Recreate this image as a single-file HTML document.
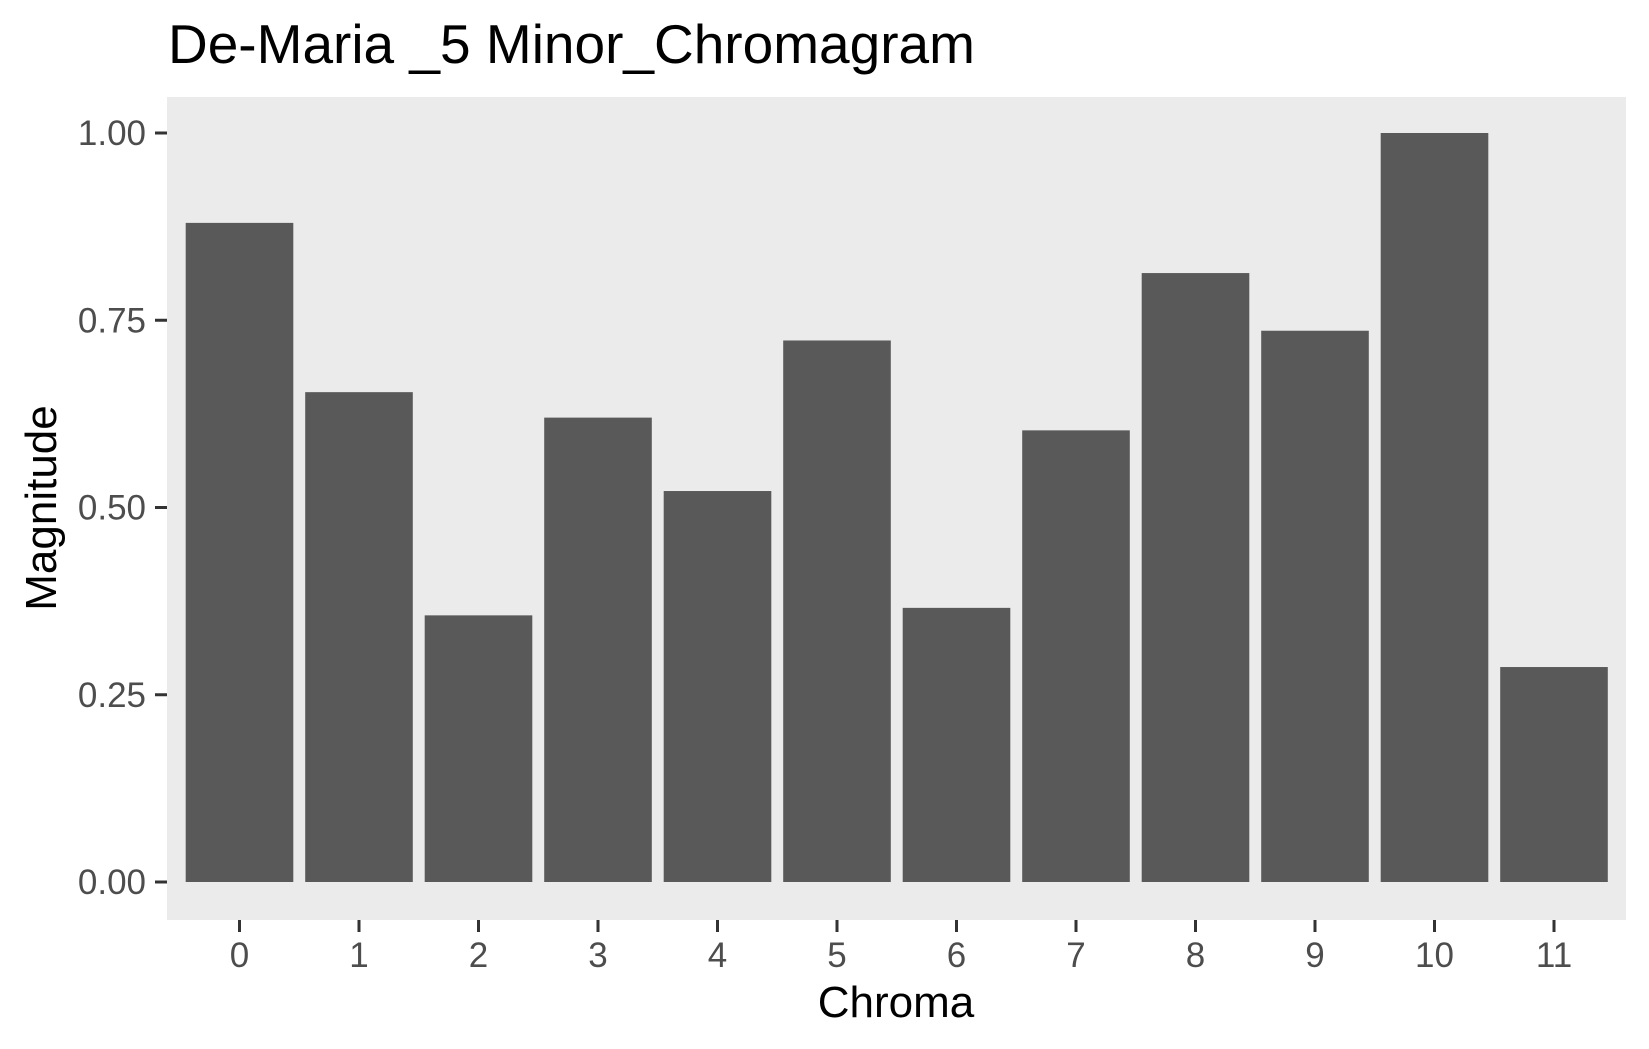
<!DOCTYPE html>
<html><head><meta charset="utf-8"><style>
body{margin:0;background:#fff;}
svg{display:block;font-family:"Liberation Sans",Arial,sans-serif;}
</style></head><body>
<svg id="chart" width="1649" height="1049">
<text x="168" y="63" font-size="55" fill="#000">De-Maria _5 Minor_Chromagram</text>
<rect x="167" y="97" width="1459" height="823" fill="#ebebeb"/>
<g id="bars"></g>
<g id="yaxis"></g>
<g id="xaxis"></g>
<text x="896" y="1017" font-size="44" text-anchor="middle" fill="#000">Chroma</text>
<text transform="translate(56,508) rotate(-90)" font-size="44" text-anchor="middle" fill="#000">Magnitude</text>
</svg>
<script>
const categories=["0","1","2","3","4","5","6","7","8","9","10","11"];
const magnitudes=[0.880,0.654,0.356,0.620,0.522,0.723,0.366,0.603,0.813,0.736,1.0,0.287];
const yTicks=[0,0.25,0.5,0.75,1.0];
const yTickLabels=["0.00","0.25","0.50","0.75","1.00"];
const NS="http://www.w3.org/2000/svg";
const x0=239.5, unit=119.5, bw=107.6;
function xs(i){return x0+i*unit;}
function ys(v){return 882-v*749;}
const bars=document.getElementById('bars'),ya=document.getElementById('yaxis'),xa=document.getElementById('xaxis');
magnitudes.forEach((v,i)=>{
  const r=document.createElementNS(NS,'rect');
  r.setAttribute('x',xs(i)-bw/2);r.setAttribute('width',bw);
  r.setAttribute('y',ys(v));r.setAttribute('height',ys(0)-ys(v));
  r.setAttribute('fill','#595959');
  
  
  bars.appendChild(r);
});
yTicks.forEach((t,i)=>{
  const y=ys(t);
  const l=document.createElementNS(NS,'line');
  l.setAttribute('x1',155);l.setAttribute('x2',167);l.setAttribute('y1',y);l.setAttribute('y2',y);
  l.setAttribute('stroke','#333');l.setAttribute('stroke-width',3);
  
  
  ya.appendChild(l);
  const tx=document.createElementNS(NS,'text');
  tx.setAttribute('x',146);tx.setAttribute('y',y+12);tx.setAttribute('text-anchor','end');
  tx.setAttribute('font-size',35);tx.setAttribute('fill','#4d4d4d');
  tx.textContent=yTickLabels[i];
  
  
  ya.appendChild(tx);
});
categories.forEach((c,i)=>{
  const x=xs(i);
  const l=document.createElementNS(NS,'line');
  l.setAttribute('x1',x);l.setAttribute('x2',x);l.setAttribute('y1',920);l.setAttribute('y2',932);
  l.setAttribute('stroke','#333');l.setAttribute('stroke-width',3);
  
  
  xa.appendChild(l);
  const tx=document.createElementNS(NS,'text');
  tx.setAttribute('x',x);tx.setAttribute('y',967);tx.setAttribute('text-anchor','middle');
  tx.setAttribute('font-size',35);tx.setAttribute('fill','#4d4d4d');
  tx.textContent=c;
  
  
  xa.appendChild(tx);
});
</script>
</body></html>
